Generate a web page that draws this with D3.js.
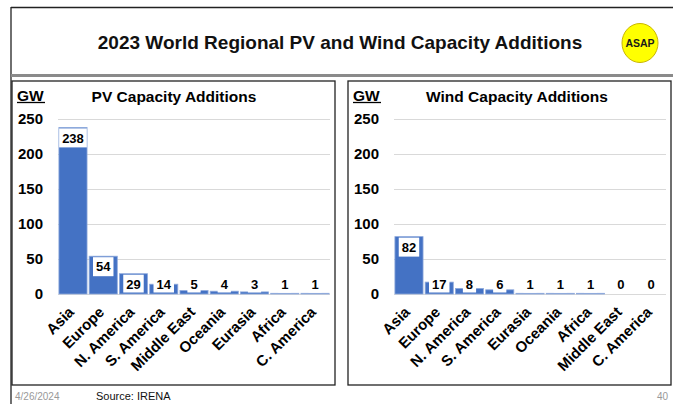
<!DOCTYPE html>
<html>
<head>
<meta charset="utf-8">
<script src="https://cdn.jsdelivr.net/npm/d3@7"></script>
<style>
  html, body { margin: 0; padding: 0; background: #fff; }
  svg { display: block; }
  text { font-family: "Liberation Sans", Arial, sans-serif; }
</style>
</head>
<body>
<svg id="chart" width="673" height="404"></svg>
<script>
// ---- data ----
const mainTitle = "2023 World Regional PV and Wind Capacity Additions";
const pvTitle = "PV Capacity Additions";
const windTitle = "Wind Capacity Additions";
const pvCategories = ["Asia", "Europe", "N. America", "S. America", "Middle East", "Oceania", "Eurasia", "Africa", "C. America"];
const pvValues = [238, 54, 29, 14, 5, 4, 3, 1, 1];
const windCategories = ["Asia", "Europe", "N. America", "S. America", "Eurasia", "Oceania", "Africa", "Middle East", "C. America"];
const windValues = [82, 17, 8, 6, 1, 1, 1, 0, 0];
const yTicks = [0, 50, 100, 150, 200, 250];
const unitLabel = "GW";
const footerDate = "4/26/2024";
const footerSource = "Source: IRENA";
const pageNumber = "40";

// ---- drawing ----
const svg = d3.select("#chart");
const BLUE = "#4472c4";

// slide frame
svg.append("line").attr("x1", 11).attr("x2", 11).attr("y1", 7).attr("y2", 404)
  .attr("stroke", "#222").attr("stroke-width", 1.3);
svg.append("line").attr("x1", 11).attr("x2", 673).attr("y1", 7.5).attr("y2", 7.5)
  .attr("stroke", "#222").attr("stroke-width", 1.3);
svg.append("line").attr("x1", 11).attr("x2", 673).attr("y1", 75.5).attr("y2", 75.5)
  .attr("stroke", "#8a8a8a").attr("stroke-width", 3);

svg.append("text").attr("x", 340).attr("y", 49).attr("text-anchor", "middle")
  .attr("font-size", 19).attr("font-weight", "bold").attr("fill", "#111").text(mainTitle);

// ASAP logo
svg.append("ellipse").attr("cx", 640).attr("cy", 43).attr("rx", 18).attr("ry", 19.5)
  .attr("fill", "#ffff00").attr("stroke", "#c9b600").attr("stroke-width", 1);
svg.append("text").attr("x", 640).attr("y", 47).attr("text-anchor", "middle")
  .attr("font-size", 10.5).attr("font-weight", "bold").attr("fill", "#1a1a1a").text("ASAP");

function drawPanel(offsetX, title, titleX, categories, values) {
  const g = svg.append("g").attr("transform", `translate(${offsetX},0)`);
  // panel border
  g.append("rect").attr("x", 12).attr("y", 81).attr("width", 323).attr("height", 304)
    .attr("fill", "none").attr("stroke", "#222").attr("stroke-width", 1.3);

  const x = d3.scaleBand().domain(categories).range([58, 330]).paddingInner(0.07).paddingOuter(0.03);
  const y = d3.scaleLinear().domain([0, 250]).range([294, 119]);

  // gridlines
  g.append("g").selectAll("line").data(yTicks).join("line")
    .attr("x1", 58).attr("x2", 330)
    .attr("y1", d => Math.round(y(d)) + 0.5).attr("y2", d => Math.round(y(d)) + 0.5)
    .attr("stroke", "#d9d9d9").attr("stroke-width", 1);

  // y axis
  const yAxis = g.append("g").attr("transform", "translate(43,0)")
    .call(d3.axisLeft(y).tickValues(yTicks).tickSize(0).tickPadding(0));
  yAxis.select(".domain").remove();
  yAxis.selectAll("text").attr("font-size", 15).attr("font-weight", "bold")
    .attr("fill", "#000").attr("font-family", "Liberation Sans, Arial, sans-serif");

  // unit label
  g.append("text").attr("x", 17).attr("y", 100.5).attr("font-size", 15.5).attr("font-weight", "bold")
    .attr("fill", "#000").text(unitLabel);
  g.append("line").attr("x1", 17).attr("x2", 45).attr("y1", 102.5).attr("y2", 102.5)
    .attr("stroke", "#000").attr("stroke-width", 1.3);

  // title
  g.append("text").attr("x", titleX).attr("y", 101.5).attr("text-anchor", "middle")
    .attr("font-size", 15.5).attr("font-weight", "bold").attr("fill", "#000").text(title);

  const data = categories.map((c, i) => ({ c, v: values[i] }));

  // bars
  g.append("g").selectAll("rect").data(data.filter(d => d.v > 0)).join("rect")
    .attr("x", d => x(d.c)).attr("width", x.bandwidth())
    .attr("y", d => y(d.v)).attr("height", d => y(0) - y(d.v))
    .attr("fill", BLUE).attr("stroke", "#8faadc").attr("stroke-width", 0.8);

  // value labels
  const lab = g.append("g").selectAll("g").data(data).join("g");
  lab.each(function(d) {
    const s = d3.select(this);
    const cx = x(d.c) + x.bandwidth() / 2;
    const cy = Math.min(y(d.v) + 10.5, 284.5);
    const t = s.append("text").attr("x", cx).attr("y", cy).attr("dy", "0.36em")
      .attr("text-anchor", "middle").attr("font-size", 13).attr("font-weight", "bold")
      .attr("fill", "#000").text(d.v);
    const tw = t.node().getComputedTextLength();
    const top = cy - 9.5;
    const h = Math.min(19, y(0) - 1.5 - top);
    s.insert("rect", "text").attr("x", cx - tw / 2 - 3).attr("y", top)
      .attr("width", tw + 6).attr("height", h).attr("fill", "#fff");
  });

  // category labels
  g.append("g").selectAll("text").data(categories).join("text")
    .attr("transform", d => `translate(${x(d) + x.bandwidth() / 2 + 2},313) rotate(-45)`)
    .attr("text-anchor", "end").attr("font-size", 15).attr("font-weight", "bold")
    .attr("fill", "#000").text(d => d);
}

drawPanel(0, pvTitle, 174, pvCategories, pvValues);
drawPanel(336, windTitle, 181, windCategories, windValues);

// footer
svg.append("text").attr("x", 15).attr("y", 400).attr("font-size", 10).attr("fill", "#999")
  .attr("font-family", "Open Sans, sans-serif").text(footerDate);
svg.append("text").attr("x", 96).attr("y", 400).attr("font-size", 11).attr("fill", "#111").text(footerSource);
svg.append("text").attr("x", 668).attr("y", 400).attr("text-anchor", "end").attr("font-size", 10)
  .attr("fill", "#999").attr("font-family", "Open Sans, sans-serif").text(pageNumber);
</script>
</body>
</html>
